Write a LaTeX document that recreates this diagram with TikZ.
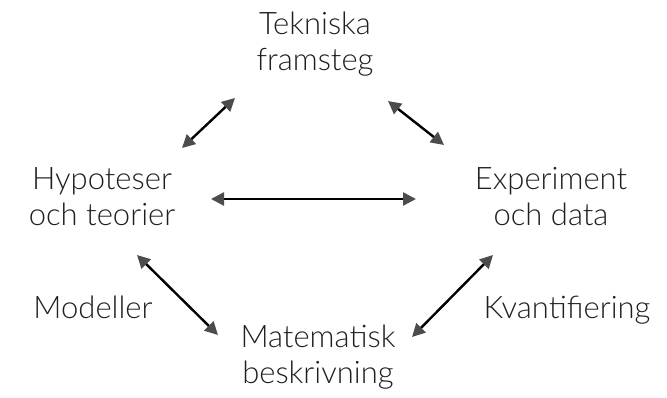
\documentclass[tikz,border=0pt]{standalone}
\usepackage{fontspec}
\setmainfont{Lato}[UprightFont=* Light]
\usetikzlibrary{arrows.meta}
\begin{document}
\begin{tikzpicture}[x=1pt,y=-1pt,
  lbl/.style={align=center,font=\fontsize{31}{36}\selectfont,text=black!88,inner sep=0pt},
  dbl/.style={line width=2.4pt,black,{Triangle[length=13pt,width=13pt,color=black!70]}-{Triangle[length=13pt,width=13pt,color=black!70]}}]
\useasboundingbox (0,0) rectangle (667,398);
\node[lbl] (tek) at (315,44) {Tekniska\\framsteg};
\node[lbl] (hyp) at (102,197) {Hypoteser\\och teorier};
\node[lbl] (exp) at (551,197) {Experiment\\och data};
\node[lbl] (mat) at (318,357) {Matematisk\\beskrivning};
\node[lbl,anchor=base] (mod) at (93,319) {Modeller};
\node[lbl,anchor=base] (kva) at (567,319) {Kvantifiering};
\coordinate (a1) at (182,148); \coordinate (b1) at (235,98);
\coordinate (a2) at (388,101); \coordinate (b2) at (444,145);
\coordinate (a3) at (211,199); \coordinate (b3) at (416,199);
\coordinate (a4) at (137,255); \coordinate (b4) at (218,335);
\coordinate (a5) at (412,337); \coordinate (b5) at (493,255);
\draw[dbl] (a1) -- (b1);
\draw[dbl] (a2) -- (b2);
\draw[dbl] (a3) -- (b3);
\draw[dbl] (a4) -- (b4);
\draw[dbl] (a5) -- (b5);
\end{tikzpicture}
\end{document}
